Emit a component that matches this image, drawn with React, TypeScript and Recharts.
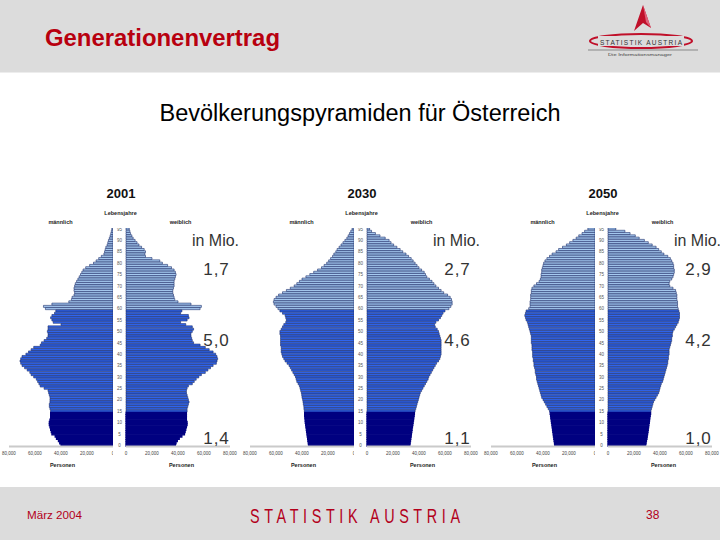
import React from "react";
import { Bar, BarChart, Cell, XAxis, YAxis } from "recharts";

// age in completed years, one bar per year (0 .. 95)
const AGES = Array.from({ length: 96 }, (_, i) => i);

// population per single year of age, in thousands, index = age
const MALE_2001 = [
  40, 41, 42, 43.5, 44.5, 47, 47.5, 48, 48.5, 49,
  49, 48.5, 48, 48, 48, 48, 48.5, 49, 49, 48.5,
  48.5, 48.5, 49, 49.5, 50, 53, 56, 57, 58, 59,
  61, 63, 64, 66, 68, 70, 71, 71.5, 71, 70,
  67, 65, 63, 61, 56, 55, 53, 51, 50, 50,
  50.5, 50, 50, 40, 46, 47, 48, 47, 45, 44,
  52, 53.5, 47, 34, 32, 31.5, 30, 29.5, 30, 30,
  29.5, 29, 28, 27, 26, 25, 24, 23, 21, 18,
  15, 13, 11, 9, 7, 6.5, 6, 5.5, 4.5, 4,
  3.5, 2.8, 2.2, 1.7, 1.3, 0.9,
];
const FEMALE_2001 = [
  38, 38.5, 39.5, 41, 43, 45, 45.5, 46, 46.5, 47,
  47, 46.5, 46.5, 46.5, 46.5, 47, 47, 47.5, 48, 48.5,
  48, 47.5, 47, 46.5, 46.5, 47, 48, 51, 52.5, 54,
  56, 58, 61, 63, 65, 67, 69.5, 70, 70.5, 70,
  69, 67, 64, 61, 57, 52, 51, 50.5, 50, 50,
  51, 52, 51, 46, 42, 47, 48.5, 48, 42, 43,
  57, 58, 50, 40, 37.5, 37, 36.5, 36, 36, 36.5,
  37, 37, 37, 37.5, 38, 38.5, 38, 37, 35, 32,
  28, 26, 20, 15, 14.5, 15, 14, 12, 10, 8.5,
  7, 5.5, 4.5, 3.5, 3, 2.5,
];
const MALE_2030 = [
  35, 35.2, 35.5, 35.7, 36, 36.2, 36.5, 36.7, 37, 37.2,
  37.5, 37.6, 37.8, 38, 38, 38.2, 38.5, 38.6, 39, 39.2,
  39.5, 40, 40.2, 40.5, 41, 41.5, 42, 43, 44, 44.5,
  45, 46, 47, 48, 49, 50, 51.5, 53, 54, 55,
  55.5, 56, 56, 56, 56.5, 56.5, 56.5, 56.5, 56.5, 57,
  57, 56, 55, 54, 52.5, 52, 52.5, 53, 55, 57,
  58.5, 60, 61.5, 62, 61.5, 60, 58, 55, 52, 49,
  46, 44, 42, 40, 37, 34, 31, 28, 25, 23,
  21, 19.5, 18, 16.5, 15.5, 14, 13, 11.5, 10, 8.5,
  7, 5.5, 4.5, 3.5, 2.5, 1.5,
];
const FEMALE_2030 = [
  33, 33.2, 33.5, 33.7, 34, 34.2, 34.5, 34.7, 35, 35.3,
  35.5, 35.8, 36, 36.3, 36.5, 37, 37.5, 38, 38.5, 39,
  39.5, 40, 40.5, 41, 42, 43, 44, 45, 46, 47,
  47.5, 48.5, 49.5, 50.5, 51.5, 52.5, 53.5, 55, 56, 56.5,
  57, 57, 57, 57, 57, 57, 57, 56.5, 56, 55.5,
  55, 54, 52.5, 52, 53, 55, 56.5, 57.5, 58.5, 60,
  63, 64.5, 65.5, 65.5, 65, 64, 62, 59, 57, 55,
  53, 51.5, 50, 48, 46, 45, 44, 42, 40, 38.5,
  37, 35.5, 34, 32, 30, 27.5, 25.5, 23, 20.5, 18.5,
  17, 14, 10, 6.5, 3.5, 2,
];
const MALE_2050 = [
  31, 31.2, 31.5, 31.7, 32, 32.2, 32.5, 32.7, 33, 33.2,
  33.5, 33.7, 34, 34.2, 34.5, 35, 36, 37, 38, 39,
  40, 41, 41.5, 42, 42.5, 43, 43.5, 44, 44.5, 45,
  45, 45.5, 46, 46, 46.5, 47, 47, 47.5, 47.5, 48,
  48, 48, 48.5, 48.5, 48.5, 49, 49, 49, 49, 49.5,
  50, 50.5, 51, 51.5, 52, 53, 53.5, 54, 53.5, 53,
  51, 50, 50, 50, 49.5, 49.5, 49.5, 49, 49, 48.5,
  47, 45, 43, 42, 41.5, 41.5, 41, 41, 40.5, 40,
  39.5, 38.5, 37, 35, 33, 30, 28, 25, 22, 19.5,
  17, 14.5, 12.5, 10, 8, 5.5,
];
const FEMALE_2050 = [
  29, 29.3, 29.6, 30, 30.2, 30.5, 30.8, 31, 31.3, 31.5,
  31.8, 32, 32.2, 32.5, 32.8, 33, 33.5, 34, 34.5, 35,
  36, 37, 38, 39, 39.5, 40, 40.5, 41, 42, 42.5,
  43, 43.5, 44, 44.5, 45, 45.5, 46, 46, 46.5, 46.5,
  47, 47, 47, 47.5, 48, 48.5, 49, 49, 49.5, 49.5,
  50, 51, 52, 53, 54, 54.5, 55, 55, 55, 54.5,
  54, 53.5, 53.5, 53.5, 53, 53, 53, 52.5, 52, 50,
  47.5, 47, 47.5, 49, 50, 50.5, 51, 51, 50.5, 50.5,
  50, 49, 48, 46, 43, 41, 39, 37, 34, 31,
  28, 24, 21, 17, 13, 6,
];

const YEARS = ["2001", "2030", "2050"];
const MALES = [MALE_2001, MALE_2030, MALE_2050];
const FEMALES = [FEMALE_2001, FEMALE_2030, FEMALE_2050];
// totals in Mio.: 60+, 15-59, 0-14
const TOTALS = [
  ["1,7", "5,0", "1,4"],
  ["2,7", "4,6", "1,1"],
  ["2,9", "4,2", "1,0"],
];
const X_TICKS = [0, 20000, 40000, 60000, 80000];

const CENTERS = [119.5, 360.5, 601.5];
const GAP = 6.5;
const PLOT_W = 104;
const PLOT_TOP = 227.5;
const PLOT_H = 218.5;
const AXIS_H = 20;
const SIDE = 14;

const barFill = (age: number) =>
  age < 15 ? "#000080" : age < 60 ? "#3066f0" : "#a8ccf2";
const barStroke = (age: number) => (age < 15 ? "#000080" : "#1c2d6a");
const strokeW = (age: number) => (age < 15 ? 1.2 : 0.6);

const fmt = (v: number) => v.toLocaleString("en-US");

const tickStyle = { fontSize: 4.5, fill: "#444" };

function AgeTick({ x, y, payload }: any) {
  const age = Number(payload.value);
  if (age % 5 !== 0) return null;
  return (
    <text x={x} y={y} dy={1.6} textAnchor="middle" fontSize={4.5} fill="#555">
      {age}
    </text>
  );
}

function Pyramid({ idx }: { idx: number }) {
  const c = CENTERS[idx];
  const male = MALES[idx];
  const female = FEMALES[idx];
  const data = [...AGES]
    .reverse()
    .map((a) => ({ age: a, m: male[a] * 1000, f: female[a] * 1000 }));
  const h = PLOT_H + AXIS_H;

  return (
    <>
      <div style={{ position: "absolute", left: c - GAP - PLOT_W - SIDE, top: PLOT_TOP }}>
        <BarChart
          width={PLOT_W + SIDE}
          height={h}
          data={data}
          layout="vertical"
          barCategoryGap={0}
          margin={{ top: 0, right: 0, bottom: 0, left: SIDE }}
        >
          <XAxis
            type="number"
            domain={[0, 80000]}
            ticks={X_TICKS}
            reversed
            height={AXIS_H}
            tickFormatter={fmt}
            tick={tickStyle}
            tickLine={false}
            tickSize={3}
            tickMargin={2}
            axisLine={{ stroke: "#cacaca", strokeWidth: 2 }}
            interval={0}
          />
          <YAxis type="category" dataKey="age" hide />
          <Bar dataKey="m" isAnimationActive={false}>
            {data.map((d) => (
              <Cell key={d.age} fill={barFill(d.age)} stroke={barStroke(d.age)} strokeWidth={strokeW(d.age)} />
            ))}
          </Bar>
        </BarChart>
      </div>
      <div style={{ position: "absolute", left: c - GAP, top: PLOT_TOP }}>
        <BarChart
          width={2 * GAP + PLOT_W + SIDE}
          height={h}
          data={data}
          layout="vertical"
          barCategoryGap={0}
          margin={{ top: 0, right: SIDE, bottom: 0, left: 0 }}
        >
          <XAxis
            type="number"
            domain={[0, 80000]}
            ticks={X_TICKS}
            height={AXIS_H}
            tickFormatter={fmt}
            tick={tickStyle}
            tickLine={false}
            tickSize={3}
            tickMargin={2}
            axisLine={{ stroke: "#cacaca", strokeWidth: 2 }}
            interval={0}
          />
          <YAxis
            type="category"
            dataKey="age"
            width={2 * GAP}
            axisLine={false}
            tickLine={false}
            tickSize={0}
            tickMargin={GAP}
            interval={0}
            tick={<AgeTick />}
          />
          <Bar dataKey="f" isAnimationActive={false}>
            {data.map((d) => (
              <Cell key={d.age} fill={barFill(d.age)} stroke={barStroke(d.age)} strokeWidth={strokeW(d.age)} />
            ))}
          </Bar>
        </BarChart>
      </div>
    </>
  );
}

function Overlay() {
  const red = "#b3001b";
  return (
    <svg
      width={720}
      height={540}
      style={{ position: "absolute", left: 0, top: 0, pointerEvents: "none" }}
      fontFamily="Arial, 'Liberation Sans', sans-serif"
    >
      {/* header + footer bands */}
      <rect x={0} y={0} width={720} height={72.5} fill="#dcdcdc" />
      <rect x={0} y={487} width={720} height={53} fill="#dcdcdc" />
      <text x={45} y={46} fontSize={23} fontWeight="bold" fill="#b8000f" textLength={235} lengthAdjust="spacingAndGlyphs">
        Generationenvertrag
      </text>

      {/* logo */}
      <path d="M643,5 L634,31 L643,23 L651,28 Z" fill="#c0102a" />
      <path d="M643,5 L646,22 L651,28 Z" fill="#e0607a" />
      <ellipse cx={641} cy={41} rx={51} ry={7} fill="none" stroke="#c0102a" strokeWidth={2} />
      <rect x={598} y={36} width={86} height={10} fill="#dcdcdc" />
      <text x={600} y={44.5} fontSize={6.5} fill="#333" textLength={82} lengthAdjust="spacing">
        STATISTIK AUSTRIA
      </text>
      <line x1={588} x2={698} y1={50} y2={50} stroke="#888" strokeWidth={1} />
      <text x={608} y={56} fontSize={4} fill="#444" textLength={64} lengthAdjust="spacingAndGlyphs">
        Die Informationsmanager
      </text>

      <text x={360} y={121} textAnchor="middle" fontSize={23.5} fill="#000">
        Bevölkerungspyramiden für Österreich
      </text>

      {CENTERS.map((c, i) => (
        <g key={YEARS[i]}>
          <text x={c + 1.5} y={197.5} textAnchor="middle" fontSize={13} fontWeight="bold" fill="#111">
            {YEARS[i]}
          </text>
          <text x={c + 1} y={214.5} textAnchor="middle" fontSize={5.5} fontWeight="bold" fill="#222">
            Lebensjahre
          </text>
          <text x={c - 59} y={223.5} textAnchor="middle" fontSize={5.5} fontWeight="bold" fill="#222">
            männlich
          </text>
          <text x={c + 61} y={223.5} textAnchor="middle" fontSize={5.5} fontWeight="bold" fill="#222">
            weiblich
          </text>
          <text x={c - 57} y={467} textAnchor="middle" fontSize={5.5} fontWeight="bold" fill="#222">
            Personen
          </text>
          <text x={c + 62} y={467} textAnchor="middle" fontSize={5.5} fontWeight="bold" fill="#222">
            Personen
          </text>
          <text x={c + 96} y={246} textAnchor="middle" fontSize={16} fill="#333">
            in Mio.
          </text>
          {TOTALS[i].map((t, k) => (
            <text
              key={k}
              x={c + 97}
              y={[275, 346, 444][k]}
              textAnchor="middle"
              fontSize={17}
              letterSpacing={1}
              fill="#333"
            >
              {t}
            </text>
          ))}
        </g>
      ))}

      {/* footer */}
      <text x={27} y={519} fontSize={11} fill={red} textLength={55} lengthAdjust="spacingAndGlyphs">
        März 2004
      </text>
      <text
        transform="translate(250,523) scale(0.72,1)"
        x={0}
        y={0}
        fontSize={20}
        fill={red}
        textLength={210 / 0.72}
        lengthAdjust="spacing"
      >
        STATISTIK AUSTRIA
      </text>
      <text x={646} y={519} fontSize={12} fill={red}>
        38
      </text>
    </svg>
  );
}

export default function App() {
  return (
    <div
      style={{
        position: "absolute",
        left: 0,
        top: 0,
        width: 720,
        height: 540,
        background: "#fff",
        fontFamily: "Arial, 'Liberation Sans', sans-serif",
        overflow: "hidden",
      }}
    >
      {YEARS.map((y, i) => (
        <Pyramid key={y} idx={i} />
      ))}
      <Overlay />
    </div>
  );
}
